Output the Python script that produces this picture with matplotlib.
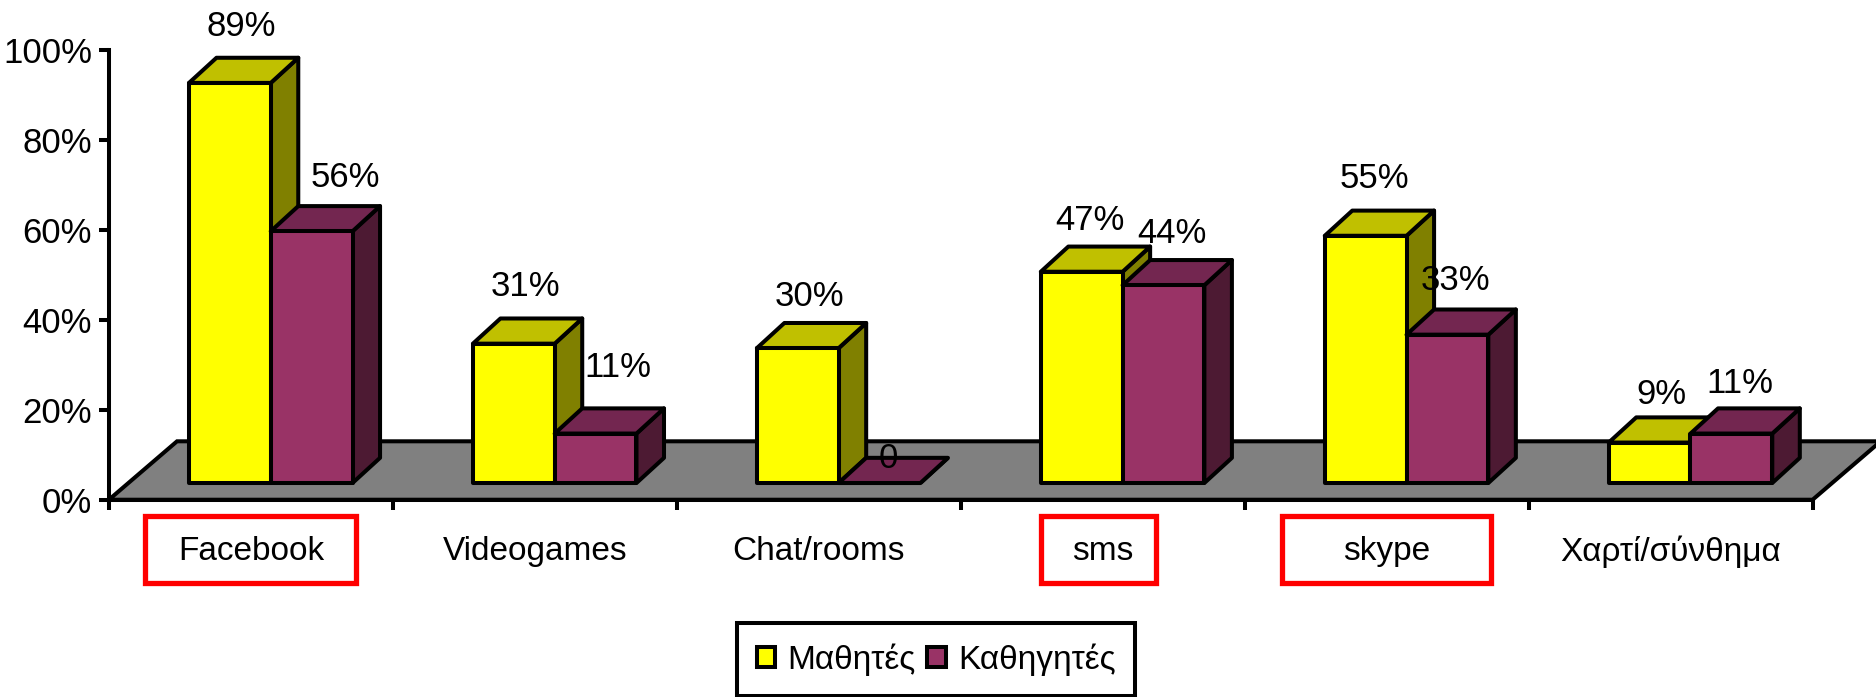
import matplotlib
matplotlib.use("Agg")
import matplotlib.pyplot as plt
from matplotlib.patches import Patch, Polygon, Rectangle

plt.rcParams['font.family'] = ['Liberation Sans', 'DejaVu Sans']

categories = ["Facebook", "Videogames", "Chat/rooms", "sms", "skype", "Χαρτί/σύνθημα"]
students = [89, 31, 30, 47, 55, 9]
teachers = [56, 11, 0, 44, 33, 11]
student_labels = ["89%", "31%", "30%", "47%", "55%", "9%"]
teacher_labels = ["56%", "11%", "0", "44%", "33%", "11%"]
series_names = ["Μαθητές", "Καθηγητές"]
y_ticks = [0, 20, 40, 60, 80, 100]
y_tick_labels = ["0%", "20%", "40%", "60%", "80%", "100%"]

# boxed categories -> left edge and width in category units
highlighted = {"Facebook": (0.126, 0.746), "sms": (3.283, 0.404), "skype": (4.13, 0.737)}

YELLOW = ("#FFFF00", "#C0C000", "#808000")
PURPLE = ("#993366", "#732650", "#4D1A33")
FONT = 25
LW = 2.9

# fake 3D geometry, in data units
FLOOR_DX, FLOOR_DY = 0.24, 13.0
BAR_DX, BAR_DY = 0.097, 5.6
BAR_BASE = 3.72
BAR_LEFT = 0.282
BAR_W = 0.288

# hand nudges for the data labels (x, y)
student_nudge = [(0, 0.5), (0, 0.8), (0, -0.5), (-0.01, -0.5), (-0.01, 0.8), (0, -1.3)]
teacher_nudge = [(0.08, 0), (0.04, 2.6), (-0.01, -6.6), (-0.01, -0.5), (-0.01, 0), (-0.01, -0.8)]


def draw_bar(ax, x, value, colors):
    y0, y1 = BAR_BASE, BAR_BASE + value
    x1 = x + BAR_W
    style = dict(edgecolor="black", linewidth=LW, joinstyle="round", clip_on=False)
    ax.add_patch(Polygon([(x1, y0), (x1 + BAR_DX, y0 + BAR_DY), (x1 + BAR_DX, y1 + BAR_DY), (x1, y1)],
                         facecolor=colors[2], **style))
    ax.add_patch(Polygon([(x, y1), (x + BAR_DX, y1 + BAR_DY), (x1 + BAR_DX, y1 + BAR_DY), (x1, y1)],
                         facecolor=colors[1], **style))
    ax.add_patch(Rectangle((x, y0), BAR_W, value, facecolor=colors[0], **style))


fig = plt.figure(figsize=(18.76, 6.97), dpi=100)
ax = fig.add_axes([91 / 1568, 1 - 418 / 583, (1515 - 91) / 1568, (418 - 42) / 583])
ax.set_xlim(0, 6)
ax.set_ylim(0, 100)
ax.patch.set_visible(False)

ax.add_patch(Polygon([(0, 0), (FLOOR_DX, FLOOR_DY), (6 + FLOOR_DX, FLOOR_DY), (6, 0)],
                     facecolor="#808080", edgecolor="black", linewidth=LW, clip_on=False))

for i in range(len(categories)):
    draw_bar(ax, i + BAR_LEFT, students[i], YELLOW)
    draw_bar(ax, i + BAR_LEFT + BAR_W, teachers[i], PURPLE)

for i in range(len(categories)):
    for left, value, text, nudge in ((BAR_LEFT, students[i], student_labels[i], student_nudge[i]),
                                     (BAR_LEFT + BAR_W, teachers[i], teacher_labels[i], teacher_nudge[i])):
        ax.text(i + left + BAR_W / 2 + 0.04 + nudge[0], BAR_BASE + value + BAR_DY + 6.4 + nudge[1], text,
                ha="center", va="center", fontsize=FONT, clip_on=False, zorder=10)

for name, (left, width) in highlighted.items():
    ax.add_patch(Rectangle((left, -18.6), width, 14.9, facecolor="none",
                           edgecolor="#FF0000", linewidth=3.8, joinstyle="miter", clip_on=False))

for side in ("top", "right"):
    ax.spines[side].set_visible(False)
for side in ("left", "bottom"):
    ax.spines[side].set_linewidth(LW)
    ax.spines[side].set_zorder(5)

ax.set_yticks(y_ticks)
ax.set_yticklabels(y_tick_labels, fontsize=FONT)
ax.tick_params(axis="y", length=7, width=LW, pad=5)
ax.set_xticks(range(7))
ax.set_xticklabels([])
ax.tick_params(axis="x", which="major", length=7, width=LW)
ax.set_xticks([i + 0.5 for i in range(len(categories))], minor=True)
ax.set_xticklabels(categories, minor=True, fontsize=FONT - 1)
ax.tick_params(axis="x", which="minor", length=0, pad=26)

handles = [Patch(facecolor=YELLOW[0], edgecolor="black", linewidth=LW),
           Patch(facecolor=PURPLE[0], edgecolor="black", linewidth=LW)]
leg = ax.legend(handles, series_names, ncol=2, loc="center", bbox_to_anchor=(0.499, 0.054),
                bbox_transform=fig.transFigure, fontsize=FONT - 1, fancybox=False, framealpha=1,
                edgecolor="black", handlelength=0.55, handleheight=0.55, handletextpad=0.36,
                columnspacing=0.36, borderpad=0.6)
leg.get_frame().set_linewidth(LW)

fig.savefig("out.png", dpi=100)
plt.close(fig)
